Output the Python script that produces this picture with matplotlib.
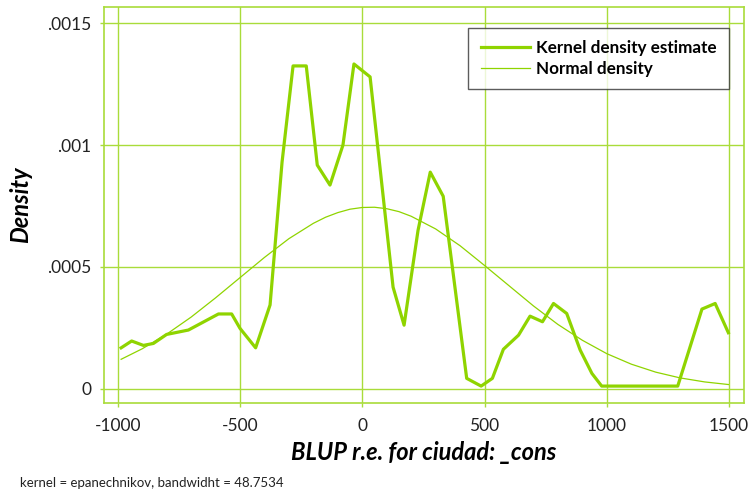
import matplotlib.pyplot as plt

# --- data ---
kde_x = [-986, -943, -895, -854, -800, -711, -588, -534, -500, -436, -377, -328,
         -283, -229, -184, -132, -79, -34, 32, 126, 171, 228, 278, 331,
         427, 486, 532, 577, 639, 686, 737, 782, 836, 891, 939, 979,
         1290, 1389, 1443, 1497]
kde_y = [0.000168, 0.000196, 0.000178, 0.000186, 0.000223, 0.000241, 0.000307, 0.000307,
         0.000248, 0.000168, 0.000344, 0.00093, 0.001325, 0.001325, 0.000918, 0.000836,
         0.0010, 0.001333, 0.00128, 0.000417, 0.000261, 0.00065, 0.000889, 0.00079,
         0.0000427, 0.000011, 0.0000427, 0.000162, 0.00022, 0.000298, 0.000275, 0.00035,
         0.000309, 0.000159, 0.000063, 0.000011, 0.000011, 0.000327, 0.00035, 0.00023]

norm_x = [-986, -900, -800, -700, -600, -500, -400, -300, -200, -150, -100, -50, 0, 50,
          100, 150, 200, 300, 400, 500, 600, 700, 800, 900, 1000, 1100, 1200, 1300,
          1400, 1497]
norm_y = [0.000121, 0.000164, 0.000224, 0.000294, 0.000373, 0.000456, 0.000539, 0.000616,
          0.000679, 0.000704, 0.000723, 0.000737, 0.000744, 0.000745, 0.000739, 0.000727,
          0.000708, 0.000656, 0.000587, 0.000506, 0.000423, 0.000340, 0.000264, 0.000199,
          0.000144, 0.000101, 0.0000682, 0.0000445, 0.0000281, 0.0000174]

xticks = [-1000, -500, 0, 500, 1000, 1500]
yticks = [0, 0.0005, 0.001, 0.0015]
ytick_labels = ['0', '.0005', '.001', '.0015']

# --- style ---
line_col = '#8fd400'
grid_col = '#a9dc3a'
plt.rcParams['font.family'] = ['Lato', 'DejaVu Sans']
plt.rcParams['axes.unicode_minus'] = False

fig = plt.figure(figsize=(7.51, 4.97), dpi=100)
ax = fig.add_axes([0.1385, 0.189, 0.8522, 0.797])

ax.plot(kde_x, kde_y, color=line_col, lw=2.3, label='Kernel density estimate', zorder=3)
ax.plot(norm_x, norm_y, color=line_col, lw=0.9, label='Normal density', zorder=3)

ax.set_xlim(-1056, 1561)
ax.set_ylim(-0.0000587, 0.001567)
ax.set_xticks(xticks)
ax.set_yticks(yticks)
ax.set_yticklabels(ytick_labels)
ax.grid(True, color=grid_col, lw=1)
ax.set_axisbelow(True)

for s in ax.spines.values():
    s.set_color(grid_col)
    s.set_linewidth(1.2)
ax.tick_params(colors=grid_col, labelcolor='#222222', labelsize=12.5, length=3, width=1)
ax.tick_params(axis='x', pad=8)
ax.tick_params(axis='y', pad=6)

ax.set_xlabel('BLUP r.e. for ciudad: _cons', fontsize=17, fontweight='bold',
              fontstyle='italic', labelpad=5)
ax.set_ylabel('Density', fontsize=17, fontweight='bold', fontstyle='italic', labelpad=11)

leg = ax.legend(loc='upper right', bbox_to_anchor=(0.99, 0.968), frameon=True,
                fancybox=False, edgecolor='#333333',
                prop={'weight': 'bold', 'size': 12.3}, handlelength=2.9,
                handletextpad=0.35, borderpad=0.72, labelspacing=0.25)
leg.get_frame().set_linewidth(1.0)

fig.text(0.027, 0.02, 'kernel = epanechnikov, bandwidht = 48.7534', fontsize=9.5, color='#222222')

fig.savefig('out.png', dpi=100)
